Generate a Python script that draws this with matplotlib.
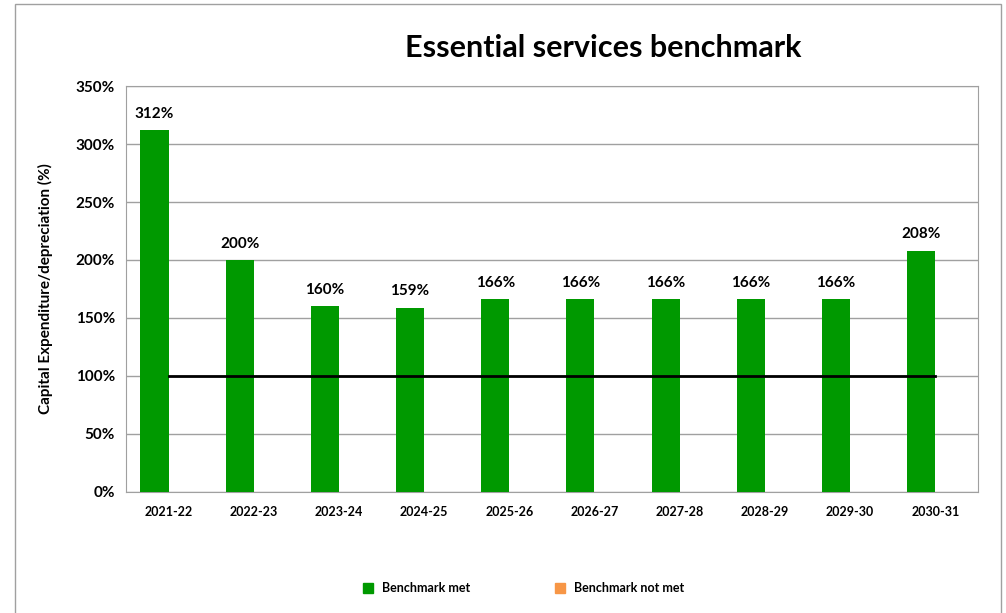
import matplotlib.pyplot as plt
from matplotlib.patches import Rectangle
from matplotlib.ticker import FuncFormatter

# chart data
years = ['2021-22', '2022-23', '2023-24', '2024-25', '2025-26',
         '2026-27', '2027-28', '2028-29', '2029-30', '2030-31']
ratio = [312, 200, 160, 159, 166, 166, 166, 166, 166, 208]
benchmark = 100
met_color = '#009900'
not_met_color = '#F79646'

plt.rcParams['font.family'] = ['Lato', 'DejaVu Sans']

fig = plt.figure(figsize=(10.06, 6.13), dpi=100)
ax = fig.add_axes([0.1252, 0.1974, 0.8468, 0.6623])

x = list(range(len(years)))
w = 0.33
colors = [met_color if v >= benchmark else not_met_color for v in ratio]
# bars sit left of the category centre (empty "not met" series on the right)
ax.bar(x, ratio, width=-w, align='edge', color=colors, zorder=3)
for i, v in enumerate(ratio):
    ax.text(i - w / 2, v + 8, f'{v}%', ha='center', va='bottom', fontsize=11, fontweight='bold')

ax.plot([x[0], x[-1]], [benchmark, benchmark], color='black', lw=2, zorder=4)

ax.set_xlim(-0.5, len(years) - 0.5)
ax.set_ylim(0, 350)
ax.set_yticks(range(0, 351, 50))
ax.yaxis.set_major_formatter(FuncFormatter(lambda v, _: f'{v:.0f}%'))
ax.set_xticks(x)
ax.set_xticklabels(years, fontsize=9, fontweight='bold')
ax.tick_params(axis='y', labelsize=11, length=0, pad=8)
ax.tick_params(axis='x', length=0, pad=10)
for lab in ax.get_yticklabels():
    lab.set_fontweight('bold')
ax.grid(axis='y', color='#a0a0a0', lw=1, zorder=0)
for s in ax.spines.values():
    s.set_color('#a0a0a0')
ax.set_ylabel('Capital Expenditure/depreciation (%)', fontsize=11, fontweight='bold', labelpad=16)

fig.text(0.6, 0.922, 'Essential services benchmark', ha='center', va='center',
         fontsize=22, fontweight='bold')

# legend
handles = [plt.Line2D([], [], marker='s', ls='', color=met_color, markersize=7),
           plt.Line2D([], [], marker='s', ls='', color=not_met_color, markersize=7)]
fig.legend(handles, ['Benchmark met', 'Benchmark not met'], loc='center',
           bbox_to_anchor=(0.517, 0.04), ncol=2, frameon=False,
           prop={'weight': 'bold', 'size': 9}, columnspacing=6.2, handletextpad=0.1)

# outer chart border
fig.patches.append(Rectangle((15 / 1006, -0.01), 986 / 1006, 1 - 4 / 613 + 0.01,
                             transform=fig.transFigure, fill=False,
                             edgecolor='#a0a0a0', lw=1))

fig.savefig('out.png', dpi=100)
